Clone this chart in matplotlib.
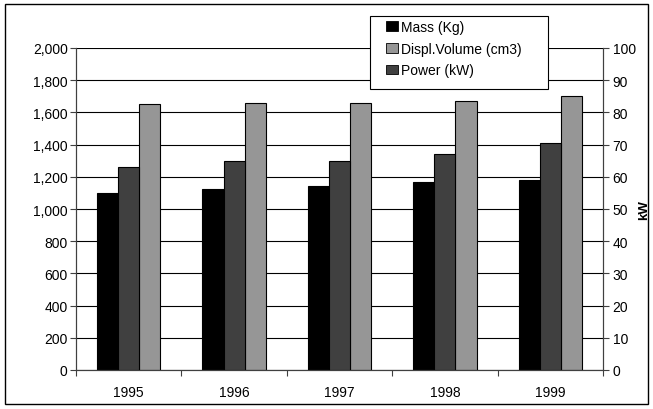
"""
Mass, displacement volume and power by year
"""

import matplotlib
matplotlib.use('Agg')
import matplotlib.pyplot as plt
from matplotlib.patches import Patch, Rectangle
from matplotlib.ticker import FuncFormatter
import numpy as np

plt.rcParams['font.family'] = ['Liberation Sans', 'DejaVu Sans']

# data
years = ['1995', '1996', '1997', '1998', '1999']
mass_kg = [1100, 1125, 1140, 1165, 1180]
displ_cm3 = [1650, 1660, 1660, 1670, 1700]
power_kw = [63, 65, 65, 67, 70.5]

c_mass = '#000000'
c_power = '#404040'
c_displ = '#969696'

W, H = 653, 410


def main():
    fig = plt.figure(figsize=(W / 100, H / 100), dpi=100)
    ax = fig.add_axes([76 / W, 1 - 371 / H, (603 - 76) / W, (371 - 49) / H])
    ax2 = ax.twinx()

    x = np.arange(len(years))
    w = 0.2

    # gridlines behind the bars
    ax.set_axisbelow(True)
    ax.yaxis.grid(True, color='black', linewidth=0.8)

    ax.bar(x - w, mass_kg, width=w, color=c_mass, edgecolor='black', linewidth=0.8)
    ax.bar(x + w, displ_cm3, width=w, color=c_displ, edgecolor='black', linewidth=0.8)
    ax2.bar(x, power_kw, width=w, color=c_power, edgecolor='black', linewidth=0.8)

    ax.set_xlim(-0.5, len(years) - 0.5)
    ax.set_ylim(0, 2000)
    ax.set_yticks(range(0, 2001, 200))
    ax.yaxis.set_major_formatter(FuncFormatter(lambda v, p: f'{int(v):,}'))
    ax2.set_ylim(0, 100)
    ax2.set_yticks(range(0, 101, 10))

    # category ticks between groups, labels in the middle
    ax.set_xticks(np.arange(-0.5, len(years), 1.0))
    ax.set_xticklabels([])
    ax.set_xticks(x, minor=True)
    ax.set_xticklabels(years, minor=True)
    ax.tick_params(axis='x', which='major', direction='out', length=4, width=0.8, color='#404040')
    ax.tick_params(axis='x', which='minor', length=0, labelsize=10, pad=11)
    ax.tick_params(axis='y', direction='out', length=4, width=0.8, labelsize=10, pad=2, color='#404040')
    ax2.tick_params(axis='y', direction='out', length=4, width=0.8, labelsize=10, pad=3, color='#404040')

    for a in (ax, ax2):
        a.spines['top'].set_visible(False)
        for s in ('left', 'right', 'bottom'):
            a.spines[s].set_color('#404040')
            a.spines[s].set_linewidth(0.8)

    ax2.set_ylabel('kW', fontsize=9.5, fontweight='bold', labelpad=2)

    # legend box drawn by hand, entries placed inside it
    fig.patches.append(Rectangle((370 / W, 1 - 90 / H), 178 / W, 73 / H,
                                 transform=fig.transFigure, facecolor='white',
                                 edgecolor='black', linewidth=0.8, zorder=5))
    handles = [
        Patch(facecolor=c_mass, edgecolor='black', linewidth=0.6),
        Patch(facecolor=c_displ, edgecolor='black', linewidth=0.6),
        Patch(facecolor=c_power, edgecolor='black', linewidth=0.6),
    ]
    labels = ['Mass (Kg)', 'Displ.Volume (cm3)', 'Power (kW)']
    leg = fig.legend(handles, labels, loc='upper left', bbox_to_anchor=(386 / W, 1 - 21 / H),
                     fontsize=10, frameon=False,
                     handlelength=0.85, handleheight=0.7, handletextpad=0.25,
                     borderpad=0, labelspacing=0.55, borderaxespad=0)
    leg.set_zorder(10)

    # outer chart border
    fig.patches.append(Rectangle((5 / W, 5 / H), 643 / W, 400 / H,
                                 transform=fig.transFigure, fill=False,
                                 edgecolor='black', linewidth=1.0))

    plt.savefig('out.png', dpi=100)


if __name__ == '__main__':
    main()
